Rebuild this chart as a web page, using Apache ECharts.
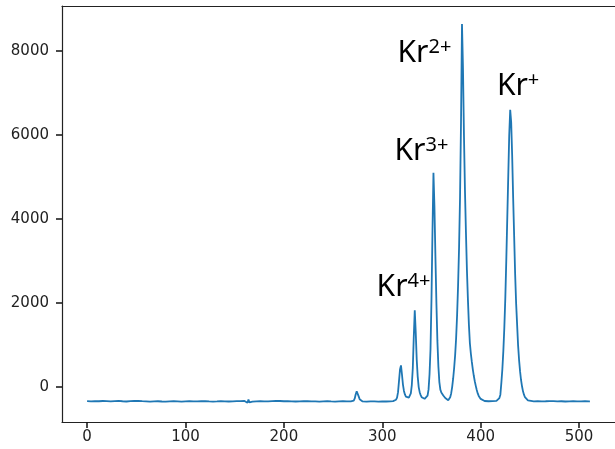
<!DOCTYPE html>
<html>
<head>
<meta charset="utf-8">
<script src="https://cdn.jsdelivr.net/npm/echarts@6/dist/echarts.min.js"></script>
<style>
  html, body { margin: 0; padding: 0; background: #fff; }
  #chart { width: 615px; height: 449px; }
</style>
</head>
<body>
<div id="chart"></div>
<script>
// channel numbers (x) and counts (y)
const channel = [
  0, 4, 8, 12, 16, 20, 24, 28, 32, 36, 40, 44, 48, 52, 56, 60, 64, 68, 72, 76,
  80, 84, 88, 92, 96, 100, 104, 108, 112, 116, 120, 124, 128, 132, 136, 140, 144, 148, 152, 156,
  160, 162, 163, 164, 165, 166, 168, 172, 176, 180, 184, 188, 192, 196, 200, 204, 208, 212, 216, 220,
  224, 228, 232, 236, 240, 244, 248, 252, 256, 260, 264, 268, 270, 271, 272, 273, 274, 275, 276, 277,
  278, 280, 284, 288, 292, 296, 300, 304, 308, 311, 313, 314, 315, 316, 317, 318, 319, 320, 321, 322,
  323, 324, 325, 326, 327, 328, 329, 330, 331, 332, 333, 334, 335, 336, 337, 338, 339, 340, 341, 342,
  343, 344, 345, 346, 347, 348, 349, 350, 351, 352, 353, 354, 355, 356, 357, 358, 359, 360, 361, 362,
  363, 364, 365, 366, 367, 368, 369, 370, 371, 372, 373, 374, 375, 376, 377, 378, 379, 380, 381, 382,
  383, 384, 385, 386, 387, 388, 389, 390, 391, 392, 393, 394, 395, 396, 397, 398, 399, 400, 402, 404,
  408, 412, 416, 418, 419, 420, 421, 422, 423, 424, 425, 426, 427, 428, 429, 430, 431, 432, 433, 434,
  435, 436, 437, 438, 439, 440, 441, 442, 443, 444, 445, 446, 448, 450, 454, 458, 462, 466, 470, 474,
  478, 482, 486, 490, 494, 498, 502, 506, 510, 511
];
const counts = [
  -335, -338, -332, -336, -330, -334, -340, -333, -328, -336, -342, -335, -330, -327, -334, -338, -344, -340, -336, -342,
  -346, -340, -336, -339, -344, -338, -333, -337, -341, -336, -332, -338, -343, -339, -334, -337, -342, -338, -335, -333,
  -330, -300, -372, -295, -365, -318, -345, -338, -334, -340, -337, -331, -326, -330, -336, -333, -338, -342, -337, -333,
  -336, -340, -338, -343, -339, -335, -340, -344, -339, -336, -341, -338, -334, -320, -270, -170, -100, -130, -220, -290,
  -325, -340, -343, -338, -341, -345, -340, -342, -338, -332, -322, -300, -250, -120, 150, 420, 518, 300, 60, -90,
  -175, -225, -250, -258, -252, -225, -150, 50, 450, 1200, 1830, 1300, 650, 250, 0, -120, -190, -240, -268, -280,
  -278, -265, -245, -200, -60, 300, 900, 2100, 3700, 5100, 4300, 3100, 2000, 1100, 500, 120, -60, -130, -170, -200,
  -230, -260, -280, -300, -310, -290, -240, -150, 0, 200, 450, 750, 1150, 1700, 2400, 3300, 4500, 6300, 8640, 7600,
  6000, 4700, 3700, 2800, 2100, 1500, 1050, 800, 600, 420, 270, 140, 30, -70, -150, -210, -250, -280, -315, -330,
  -336, -333, -328, -305, -260, -180, 100, 420, 850, 1400, 2100, 3000, 4000, 5000, 6000, 6600, 6300, 5500, 4500, 3600,
  2700, 2000, 1500, 1000, 650, 380, 170, 20, -100, -180, -240, -280, -315, -330, -338, -334, -340, -336, -331, -335,
  -339, -336, -342, -338, -334, -337, -341, -336, -339, -337
];

// axis ticks
const xTicks = [0, 100, 200, 300, 400, 500];
const yTicks = [0, 2000, 4000, 6000, 8000];

// peak labels: text, superscript, anchor (channel, counts)
const peakNames = ['Kr', 'Kr', 'Kr', 'Kr'];
const peakCharges = ['2+', '+', '3+', '4+'];
const peakLabelX = [342.8, 438, 339.8, 321.6];
const peakLabelY = [7950, 7165, 5613, 2382];

const myChart = echarts.init(document.getElementById('chart'));

const lineData = channel.map((x, i) => [x, counts[i]]);
const labelPoints = peakNames.map((n, i) => ({
  coord: [peakLabelX[i], peakLabelY[i]],
  label: { formatter: '{k|' + n + '}{s|' + peakCharges[i] + '}' }
}));

const axisText = {
  color: '#222', fontFamily: 'DejaVu Sans', fontSize: 15,
  formatter: v => String(v)
};
const spine = { show: true, onZero: false, lineStyle: { color: '#222', width: 1.2 } };

const option = {
  backgroundColor: '#fff',
  animation: false,
  grid: { left: 62, top: 6, right: -4, bottom: 27 },
  xAxis: [{
    type: 'value',
    min: -25.5,
    max: 536.5,
    splitLine: { show: false },
    axisLine: spine,
    axisTick: { show: true, length: 6, customValues: xTicks, lineStyle: { color: '#111', width: 1.5 } },
    axisLabel: Object.assign({ customValues: xTicks, margin: 8 }, axisText)
  }, {
    // top frame line only
    type: 'value',
    position: 'top',
    min: -25.5,
    max: 536.5,
    splitLine: { show: false },
    axisLine: spine,
    axisTick: { show: false },
    axisLabel: { show: false }
  }],
  yAxis: {
    type: 'value',
    min: -830,
    max: 9070,
    splitLine: { show: false },
    axisLine: spine,
    axisTick: { show: true, length: 6, customValues: yTicks, lineStyle: { color: '#111', width: 1.5 } },
    axisLabel: Object.assign({ customValues: yTicks, margin: 13 }, axisText)
  },
  series: [{
    type: 'line',
    data: lineData,
    showSymbol: false,
    lineStyle: { color: '#1f77b4', width: 1.8 },
    markPoint: {
      symbol: 'circle',
      symbolSize: 0,
      silent: true,
      label: {
        show: true,
        position: 'inside',
        rich: {
          k: { fontSize: 30, lineHeight: 32, color: '#000', fontFamily: 'Noto Sans, sans-serif' },
          s: { fontSize: 20, lineHeight: 32, color: '#000', verticalAlign: 'top', fontFamily: 'Noto Sans, sans-serif' }
        }
      },
      data: labelPoints
    }
  }]
};

myChart.setOption(option);
</script>
</body>
</html>
